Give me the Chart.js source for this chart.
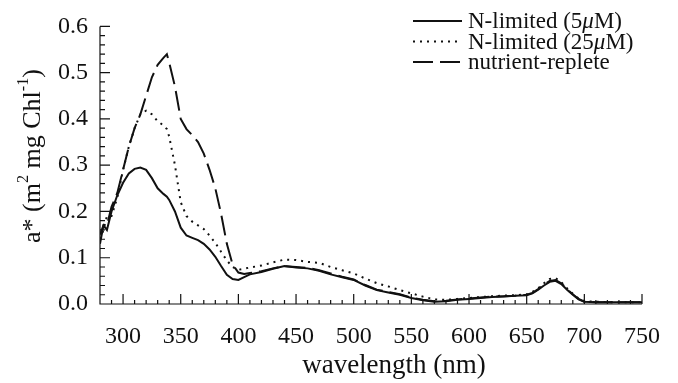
<!DOCTYPE html>
<html>
<head>
<meta charset="utf-8">
<script src="https://cdn.jsdelivr.net/npm/chart.js@4.4.1/dist/chart.umd.min.js"></script>
<style>
  html, body { margin: 0; padding: 0; background: #fff; }
  #wrap { width: 678px; height: 383px; }
</style>
</head>
<body>
<div id="wrap"><canvas id="spectra" width="678" height="383"></canvas></div>
<script>
// wavelength (nm) shared by all three spectra
const wavelengths = [280, 283, 286, 290, 295, 300, 305, 310, 315, 320, 325, 330, 335, 338, 340,
    345, 350, 355, 360, 365, 370, 375, 380, 385, 390, 395, 400, 405, 410, 420, 430, 440, 450, 460,
    470, 480, 490, 500, 510, 520, 530, 540, 550, 560, 570, 580, 590, 600, 610, 620, 630, 640, 650,
    655, 660, 665, 670, 675, 680, 685, 690, 695, 700, 710, 720, 730, 740, 750];

// a* (m2 mg Chl-1)
const nLimited5 = [0.15, 0.17, 0.16, 0.20, 0.235, 0.262, 0.282, 0.292, 0.295, 0.29,
    0.272, 0.25, 0.238, 0.232, 0.225, 0.20, 0.165, 0.148, 0.143, 0.138,
    0.13, 0.118, 0.102, 0.082, 0.063, 0.054, 0.052, 0.058, 0.064, 0.069,
    0.076, 0.082, 0.079, 0.077, 0.072, 0.064, 0.058, 0.052, 0.04, 0.03,
    0.025, 0.02, 0.013, 0.008, 0.005, 0.006, 0.009, 0.011, 0.013, 0.015,
    0.016, 0.018, 0.019, 0.023, 0.031, 0.04, 0.048, 0.05, 0.043, 0.031,
    0.02, 0.01, 0.005, 0.004, 0.004, 0.004, 0.004, 0.004];

const nLimited25 = [0.14, 0.16, 0.19, 0.19, 0.23, 0.29, 0.34, 0.38, 0.41, 0.418,
    0.41, 0.395, 0.386, 0.378, 0.362, 0.30, 0.22, 0.19, 0.178, 0.17,
    0.162, 0.148, 0.132, 0.113, 0.094, 0.08, 0.074, 0.076, 0.079, 0.083,
    0.09, 0.096, 0.095, 0.091, 0.089, 0.08, 0.073, 0.066, 0.055, 0.045,
    0.038, 0.03, 0.023, 0.016, 0.01, 0.009, 0.011, 0.013, 0.015, 0.017,
    0.018, 0.019, 0.021, 0.026, 0.034, 0.045, 0.054, 0.056, 0.047, 0.034,
    0.022, 0.012, 0.006, 0.005, 0.004, 0.004, 0.004, 0.004];

const replete = [0.13, 0.17, 0.17, 0.21, 0.24, 0.29, 0.34, 0.38, 0.41, 0.45,
    0.49, 0.517, 0.532, 0.54, 0.522, 0.47, 0.40, 0.378, 0.365, 0.35,
    0.325, 0.29, 0.25, 0.195, 0.13, 0.085, 0.068, 0.065, 0.067, 0.071,
    0.077, 0.082, 0.08, 0.078, 0.073, 0.066, 0.059, 0.053, 0.041, 0.031,
    0.026, 0.021, 0.014, 0.009, 0.006, 0.007, 0.01, 0.012, 0.014, 0.016,
    0.017, 0.018, 0.02, 0.024, 0.032, 0.042, 0.05, 0.052, 0.045, 0.032,
    0.021, 0.011, 0.005, 0.004, 0.004, 0.004, 0.004, 0.004];

const xTicks = [300, 350, 400, 450, 500, 550, 600, 650, 700, 750];
const yTicks = [0, 0.1, 0.2, 0.3, 0.4, 0.5, 0.6];

const serif = "'Liberation Serif', 'Times New Roman', serif";
const ink = "#111";

function pairs(ys) {
    return wavelengths.map((x, i) => ({ x: x, y: ys[i] }));
}

// draws a run of text pieces; each piece may be italic or raised
function drawRuns(ctx, runs, x, y, size) {
    let cx = x;
    runs.forEach(r => {
        const s = r.sup ? size * 0.62 : size;
        ctx.font = (r.italic ? "italic " : "") + s + "px " + serif;
        ctx.fillText(r.t, cx, r.sup ? y - size * 0.36 : y);
        cx += ctx.measureText(r.t).width;
    });
    return cx - x;
}

function runsWidth(ctx, runs, size) {
    let w = 0;
    runs.forEach(r => {
        const s = r.sup ? size * 0.62 : size;
        ctx.font = (r.italic ? "italic " : "") + s + "px " + serif;
        w += ctx.measureText(r.t).width;
    });
    return w;
}

const legendRuns = [
    [{ t: "N-limited (5" }, { t: "\u03bc", italic: true }, { t: "M)" }],
    [{ t: "N-limited (25" }, { t: "\u03bc", italic: true }, { t: "M)" }],
    [{ t: "nutrient-replete" }]
];

const framePlugin = {
    id: "frame",
    afterDraw(chart) {
        const { ctx, chartArea: a, scales: { x, y } } = chart;
        ctx.save();

        // axes with inward ticks
        ctx.strokeStyle = ink;
        ctx.lineWidth = 1.2;
        ctx.beginPath();
        ctx.moveTo(a.left, a.top);
        ctx.lineTo(a.left, a.bottom);
        ctx.lineTo(a.right, a.bottom);
        for (let v = 290; v <= 750; v += 10) {
            const px = x.getPixelForValue(v);
            ctx.moveTo(px, a.bottom);
            ctx.lineTo(px, a.bottom - (v % 50 === 0 ? 10 : 4));
        }
        for (let k = 1; k <= 30; k++) {
            const py = y.getPixelForValue(k * 0.02);
            ctx.moveTo(a.left, py);
            ctx.lineTo(a.left + (k % 5 === 0 ? 10 : 5), py);
        }
        ctx.stroke();

        // legend
        ctx.fillStyle = ink;
        ctx.textBaseline = "middle";
        ctx.textAlign = "left";
        chart.data.datasets.forEach((ds, i) => {
            const ry = 21 + i * 20.5;
            ctx.lineWidth = ds.borderWidth;
            ctx.setLineDash(ds.borderDash || []);
            ctx.beginPath();
            ctx.moveTo(413, ry);
            ctx.lineTo(462, ry);
            ctx.stroke();
            ctx.setLineDash([]);
            drawRuns(ctx, legendRuns[i], 468, ry + 1, 23);
        });

        // axis titles
        ctx.font = "27px " + serif;
        ctx.textAlign = "center";
        ctx.fillText("wavelength (nm)", 394, 366);

        const yRuns = [{ t: "a* (m" }, { t: "2", sup: true }, { t: " mg Chl" }, { t: "-1", sup: true }, { t: ")" }];
        ctx.translate(33, 156);
        ctx.rotate(-Math.PI / 2);
        ctx.textAlign = "left";
        const w = runsWidth(ctx, yRuns, 26);
        drawRuns(ctx, yRuns, -w / 2, 0, 26);

        ctx.restore();
    }
};

new Chart(document.getElementById("spectra"), {
    type: "line",
    data: {
        datasets: [
            { label: "N-limited (5\u03bcM)", data: pairs(nLimited5), borderColor: ink, borderWidth: 2, borderDash: [] },
            { label: "N-limited (25\u03bcM)", data: pairs(nLimited25), borderColor: ink, borderWidth: 2, borderDash: [2, 5] },
            { label: "nutrient-replete", data: pairs(replete), borderColor: ink, borderWidth: 2, borderDash: [20, 7] }
        ]
    },
    options: {
        responsive: false,
        animation: false,
        elements: { point: { radius: 0 }, line: { tension: 0 } },
        layout: { padding: { top: 21, right: 21, left: 0, bottom: 0 } },
        plugins: { legend: { display: false }, tooltip: { enabled: false } },
        scales: {
            x: {
                type: "linear",
                min: 280,
                max: 750,
                afterBuildTicks: s => { s.ticks = xTicks.map(v => ({ value: v })); },
                afterFit: s => { s.height = 79; },
                grid: { display: false, drawTicks: false },
                border: { display: false },
                ticks: { padding: 18, color: ink, autoSkip: false, maxRotation: 0, font: { family: serif, size: 24 } }
            },
            y: {
                min: 0,
                max: 0.6,
                afterBuildTicks: s => { s.ticks = yTicks.map(v => ({ value: v })); },
                afterFit: s => { s.width = 100; },
                grid: { display: false, drawTicks: false },
                border: { display: false },
                ticks: { padding: 12, color: ink, font: { family: serif, size: 24 }, callback: v => v.toFixed(1) }
            }
        }
    },
    plugins: [framePlugin]
});
</script>
</body>
</html>
